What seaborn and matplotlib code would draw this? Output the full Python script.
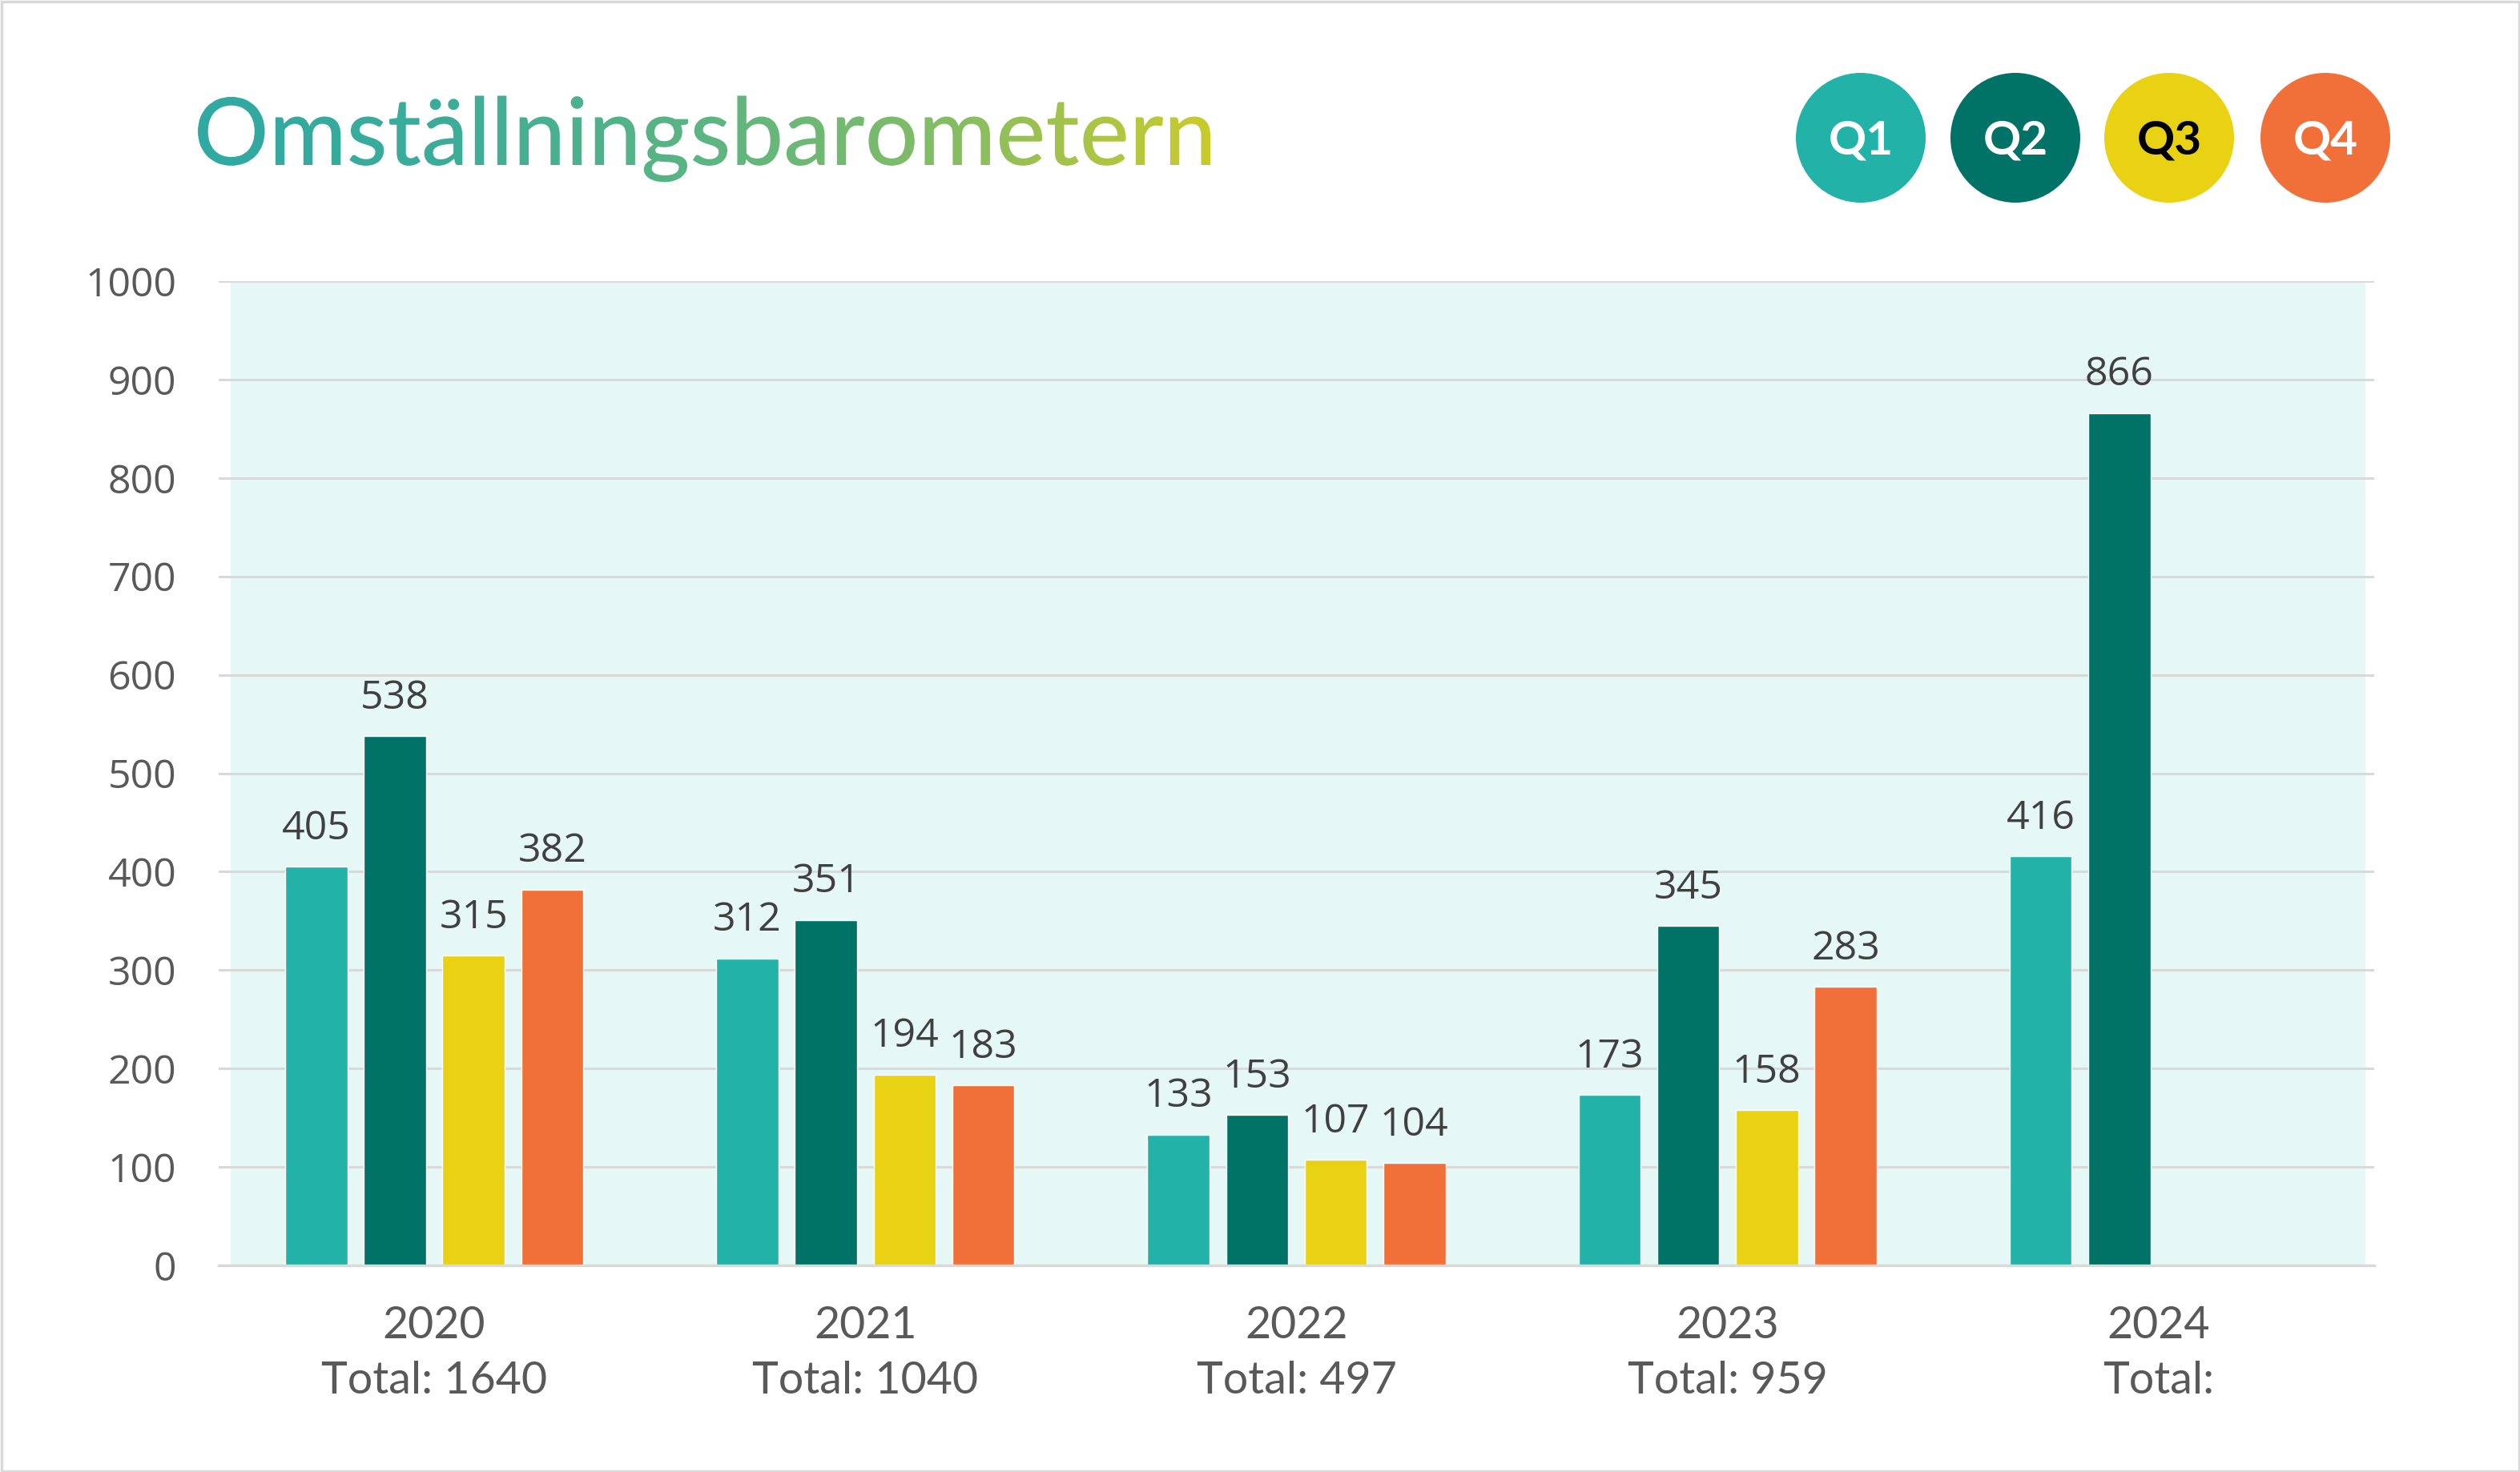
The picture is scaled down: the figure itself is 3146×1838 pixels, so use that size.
import numpy as np
import pandas as pd
import seaborn as sns
import matplotlib.pyplot as plt
from matplotlib.patches import Circle, Rectangle
from matplotlib.textpath import TextPath
from matplotlib.font_manager import FontProperties
from matplotlib.transforms import Affine2D
from matplotlib.colors import LinearSegmentedColormap

# data
years = ["2020", "2021", "2022", "2023", "2024"]
quarters = ["Q1", "Q2", "Q3", "Q4"]
q1 = [405, 312, 133, 173, 416]
q2 = [538, 351, 153, 345, 866]
q3 = [315, 194, 107, 158, np.nan]
q4 = [382, 183, 104, 283, np.nan]
totals = ["1640", "1040", "497", "959", ""]
colors = ["#23B2A7", "#007266", "#E9D214", "#F1703A"]

rows = []
for q, vals in zip(quarters, [q1, q2, q3, q4]):
    for y, v in zip(years, vals):
        if not np.isnan(v):
            rows.append({"year": y, "quarter": q, "value": v})
df = pd.DataFrame(rows)

sns.set_style("white")
plt.rcParams['font.family'] = ['Open Sans', 'DejaVu Sans']

W, H = 3146, 1838
fig = plt.figure(figsize=(W / 100, H / 100), dpi=100)
ax = fig.add_axes([273 / W, 258 / H, 2691 / W, 1229 / H])

# plot area shading
ax.add_patch(Rectangle((15 / 2691, 0), (2953 - 288) / 2691, 1, transform=ax.transAxes,
                       facecolor="#E5F8F6", edgecolor="none", zorder=0.1))

sns.barplot(data=df, x="year", y="value", hue="quarter", order=years, hue_order=quarters,
            palette=colors, width=0.73, gap=0.21, errorbar=None, legend=False,
            saturation=1, ax=ax, zorder=2)

for c in ax.containers:
    ax.bar_label(c, fmt="%d", padding=16, fontsize=36, color="#404040")

ax.set_ylim(0, 1000)
ax.set_xlim(-0.5, 4.5)
ax.set_yticks(range(0, 1001, 100))
ax.set_axisbelow(True)
ax.yaxis.grid(True, color="#D9D9D9", lw=2.2)
ax.xaxis.grid(False)
for s in ["top", "left", "right"]:
    ax.spines[s].set_visible(False)
ax.spines["bottom"].set_color("#D9D9D9")
ax.spines["bottom"].set_linewidth(2.4)
ax.set_xlabel("")
ax.set_ylabel("")
ax.tick_params(axis="y", length=0, pad=38, labelsize=36, labelcolor="#595959")
ax.tick_params(axis="x", length=0, pad=36, labelcolor="#595959")
ax.set_xticks(range(len(years)))
ax.set_xticklabels([f"{y}\nTotal: {t}" if t else f"{y}\nTotal:" for y, t in zip(years, totals)],
                   fontsize=40, family=["Lato", "DejaVu Sans"], linespacing=1.45)

# overlay for title, legend bubbles and frame (pixel coordinates)
ov = fig.add_axes([0, 0, 1, 1], zorder=10)
ov.set_xlim(0, W)
ov.set_ylim(0, H)
ov.axis("off")
ov.patch.set_alpha(0)

tp = TextPath((0, 0), "Omställningsbarometern", size=100,
              prop=FontProperties(family="Lato", weight="medium"))
bb = tp.get_extents()
sc = (1511 - 247) / bb.width
tp = tp.transformed(Affine2D().translate(-bb.x0, 0).scale(sc).translate(247, H - 206))
cmap = LinearSegmentedColormap.from_list("logo", ["#2FA9A2", "#3DAD99", "#5CB582", "#86BD63", "#C9CB2C"])
grad = np.linspace(0, 1, 512).reshape(1, -1)
im = ov.imshow(grad, cmap=cmap, extent=[247, 1511, H - 260, H - 90], aspect="auto", zorder=5)
im.set_clip_path(tp, ov.transData)
ov.set_xlim(0, W)
ov.set_ylim(0, H)

bubble_x = [2323, 2516, 2708, 2903]
text_cols = ["white", "white", "black", "white"]
for x, q, c, tc in zip(bubble_x, quarters, colors, text_cols):
    ov.add_patch(Circle((x, H - 172), 81, facecolor=c, edgecolor="none"))
    ov.text(x, H - 176, q, ha="center", va="center", fontsize=42, fontweight="bold",
            color=tc, family=["Lato", "DejaVu Sans"])

ov.add_patch(Rectangle((1.5, 1.5), W - 3, H - 3, facecolor="none", edgecolor="#D9D9D9", lw=2.5))

fig.savefig("out.png", dpi=100)
